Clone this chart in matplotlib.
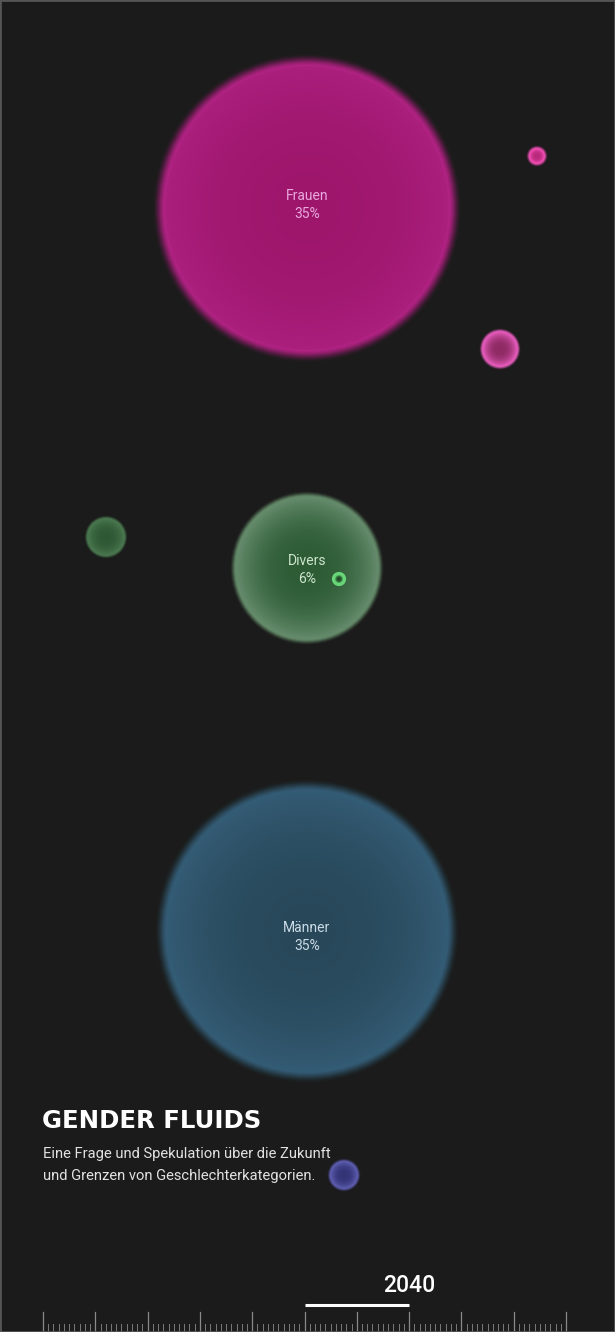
'''
Gender Fluids - bubble poster with timeline
'''

# Imports
import numpy as np
import matplotlib.pyplot as plt
from matplotlib.patches import Circle, Rectangle
from matplotlib.colors import to_rgb

# Data
labels = ['Frauen', '', '', '', 'Divers', '', 'Männer', '']
shares = [35, None, None, None, 6, None, 35, None]
bubble_x = [307, 537, 500, 106, 307, 339, 307, 344]
bubble_y = [208, 156, 349, 537, 568, 579, 931, 1175]
bubble_r = [148, 9, 19, 20, 74, 6, 146, 15]
label_dy = [-12, 0, 0, 0, -7, 0, -3, 0]
center_col = ['#9d166c', '#b82a7c', '#8e2a64', '#2e5834', '#2c5b34', '#244a2a', '#28485a', '#333377']
edge_col = ['#aa1e7c', '#f04cb0', '#e25ab8', '#4a774f', '#62896a', '#5fd070', '#335a73', '#5a5aaa']
glow_col = ['#b22384', '#f050b5', '#e45cbc', '#4a774f', '#658c6a', '#70e080', '#355d77', '#5e5eb2']
text_col = ['#eaa8dc', None, None, None, '#cfe6cf', None, '#cbdbe6', None]

years = np.arange(1990, 2091)
current_year = 2040

title = 'GENDER FLUIDS'
subtitle = 'Eine Frage und Spekulation über die Zukunft\nund Grenzen von Geschlechterkategorien.'

bg = '#1b1b1b'

# Figure in pixel coordinates
fig = plt.figure(figsize=(6.15, 13.32), dpi=100, facecolor=bg)
ax = fig.add_axes([0, 0, 1, 1])
ax.set_xlim(0, 615)
ax.set_ylim(1332, 0)
ax.set_facecolor(bg)
ax.axis('off')


def mix(c1, c2, t):
    a = np.array(to_rgb(c1))
    b = np.array(to_rgb(c2))
    return tuple(a + (b - a) * t)


def bubble(x, y, r, cc, ec, gc):
    # soft edge: coverage goes smoothly from 0 (outside) to 1 (body)
    g = min(14, max(4, r * 0.09))
    rb = r - g * 0.5
    n = 20
    prev = 0.0
    for i in range(n):
        t = (i + 1) / n
        cov = 0.5 - 0.5 * np.cos(np.pi * t)  # smooth ramp
        cov = min(cov, 0.995)
        a = 1 - (1 - cov) / (1 - prev)
        prev = cov
        rr = rb + g * (1 - i / n)
        ax.add_patch(Circle((x, y), rr, color=gc, alpha=a, lw=0))
    # radial gradient body
    steps = 40
    for k in range(steps):
        f = 1 - k / steps
        ax.add_patch(Circle((x, y), rb * f, color=mix(cc, ec, f ** 2.5), lw=0))


for i in range(len(bubble_x)):
    bubble(bubble_x[i], bubble_y[i], bubble_r[i], center_col[i], edge_col[i], glow_col[i])
    if labels[i]:
        ly = bubble_y[i] + label_dy[i]
        ax.text(bubble_x[i], ly, labels[i], color=text_col[i],
                fontsize=10, family='Roboto', ha='center', va='center')
        ax.text(bubble_x[i], ly + 18, '%d%%' % shares[i], color=text_col[i],
                fontsize=10, family='Roboto', ha='center', va='center')

# small ring inside Divers
ax.add_patch(Circle((bubble_x[5], bubble_y[5]), bubble_r[5], fill=False,
                    ec='#6ad67a', lw=1.5))

# Title block
ax.text(42, 1121, title, color='white', fontsize=17.6, fontweight='bold',
        family='DejaVu Sans', ha='left', va='center')
ax.text(43, 1165, subtitle, color='#e2e2e2', fontsize=10.6, family='Roboto',
        ha='left', va='center', linespacing=1.8)

# Timeline
x0, step = 43, 5.23
tx = x0 + (years - years[0]) * step
for yr, xx in zip(years, tx):
    if yr % 10 == 0:
        ax.plot([xx, xx], [1312, 1332], color='#8a8a8a', lw=0.9)
    else:
        ax.plot([xx, xx], [1324, 1332], color='#7a7a7a', lw=0.7)

xs = x0 + (current_year - years[0]) * step
ax.plot([xs, xs + 20 * step], [1305, 1305], color='white', lw=2.2, solid_capstyle='butt')
ax.text(xs + 20 * step, 1286, str(current_year), color='white', fontsize=16.5,
        fontweight='medium', family='Roboto', ha='center', va='center')

# border
fig.patches.append(Rectangle((0, 0), 1, 1, transform=fig.transFigure, fill=False,
                             ec='#555555', lw=2))

fig.savefig('out.png', dpi=100, facecolor=bg)
